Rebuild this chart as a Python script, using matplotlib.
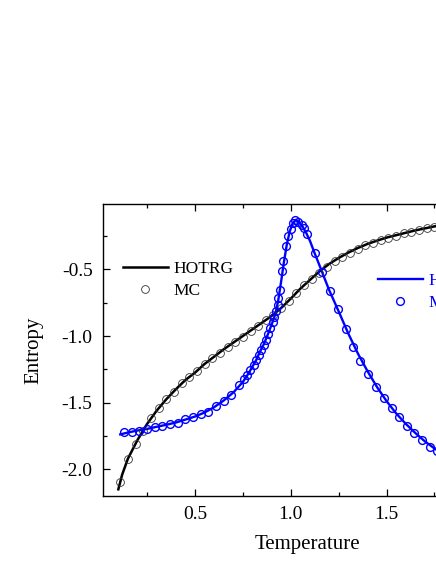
import numpy as np
import matplotlib
matplotlib.use('Agg')
import matplotlib.pyplot as plt
from matplotlib.lines import Line2D
from matplotlib.ticker import MultipleLocator

plt.rcParams['font.family'] = ['Liberation Serif', 'DejaVu Serif']
plt.rcParams['axes.unicode_minus'] = False

# HOTRG entropy curves
T_hotrg_black = [0.10, 0.12, 0.15, 0.20, 0.25, 0.30, 0.35, 0.40, 0.45, 0.50, 0.55, 0.60, 0.65,
                 0.70, 0.75, 0.80, 0.85, 0.90, 0.95, 1.00, 1.05, 1.10, 1.15, 1.20, 1.25, 1.30,
                 1.35, 1.40, 1.45, 1.50, 1.55, 1.60, 1.65, 1.70, 1.75, 1.80, 1.90, 2.00, 2.10]
S_hotrg_black = [-2.15, -2.04, -1.92, -1.78, -1.66, -1.56, -1.475, -1.40, -1.33, -1.275, -1.21,
                 -1.155, -1.10, -1.05, -1.00, -0.95, -0.90, -0.85, -0.79, -0.72, -0.645, -0.58,
                 -0.515, -0.46, -0.415, -0.375, -0.34, -0.31, -0.285, -0.262, -0.244, -0.226,
                 -0.208, -0.193, -0.178, -0.165, -0.142, -0.122, -0.105]

T_hotrg_blue = [0.11, 0.15, 0.20, 0.25, 0.30, 0.35, 0.40, 0.45, 0.50, 0.55, 0.60, 0.65, 0.70,
                0.75, 0.78, 0.80, 0.82, 0.84, 0.86, 0.88, 0.90, 0.92, 0.935, 0.95, 0.965, 0.98,
                0.995, 1.01, 1.025, 1.04, 1.06, 1.08, 1.10, 1.125, 1.15, 1.20, 1.25, 1.30, 1.35,
                1.40, 1.45, 1.50, 1.55, 1.60, 1.65, 1.70, 1.75, 1.80, 1.85, 1.90, 1.95, 2.00, 2.10]
S_hotrg_blue = [-1.738, -1.724, -1.709, -1.697, -1.681, -1.666, -1.649, -1.627, -1.604, -1.574,
                -1.534, -1.484, -1.424, -1.345, -1.28, -1.23, -1.18, -1.115, -1.06, -0.99, -0.915,
                -0.835, -0.73, -0.59, -0.44, -0.31, -0.215, -0.155, -0.13, -0.14, -0.175, -0.225,
                -0.285, -0.38, -0.47, -0.654, -0.815, -0.98, -1.13, -1.262, -1.382, -1.488, -1.58,
                -1.658, -1.727, -1.79, -1.843, -1.89, -1.93, -1.965, -1.995, -2.02, -2.07]

# MC data
T_mc_black = [0.11, 0.15, 0.19, 0.23, 0.27, 0.31, 0.35, 0.39, 0.43, 0.47, 0.51, 0.55, 0.59,
              0.63, 0.67, 0.71, 0.75, 0.79, 0.83, 0.87, 0.91, 0.95, 0.99, 1.03, 1.07, 1.11,
              1.15, 1.19, 1.23, 1.27, 1.31, 1.35, 1.39, 1.43, 1.47, 1.51, 1.55, 1.59, 1.63,
              1.67, 1.71, 1.75, 1.79, 1.83, 1.87, 1.91, 1.95, 1.99]
S_mc_black = [-2.094, -1.924, -1.809, -1.71, -1.616, -1.541, -1.471, -1.417, -1.354, -1.309,
              -1.261, -1.207, -1.166, -1.124, -1.084, -1.044, -1.004, -0.961, -0.924, -0.879,
              -0.841, -0.791, -0.736, -0.679, -0.621, -0.574, -0.524, -0.479, -0.436, -0.404,
              -0.374, -0.346, -0.321, -0.299, -0.279, -0.262, -0.247, -0.231, -0.217, -0.204,
              -0.191, -0.179, -0.168, -0.158, -0.149, -0.14, -0.132, -0.124]

T_mc_blue = [0.13, 0.17, 0.21, 0.25, 0.29, 0.33, 0.37, 0.41, 0.45, 0.49, 0.53, 0.57, 0.61,
             0.65, 0.69, 0.73, 0.755, 0.771, 0.789, 0.806, 0.820, 0.832, 0.844, 0.858, 0.870,
             0.880, 0.893, 0.905, 0.913, 0.924, 0.931, 0.936, 0.944, 0.956, 0.962, 0.974, 0.988,
             1.0, 1.013, 1.024, 1.039, 1.057, 1.071, 1.086, 1.126, 1.165, 1.204, 1.245, 1.287,
             1.326, 1.364, 1.404, 1.445, 1.485, 1.527, 1.567, 1.606, 1.644, 1.684, 1.725, 1.765,
             1.805, 1.845, 1.885, 1.925, 1.965]
S_mc_blue = [-1.721, -1.722, -1.709, -1.697, -1.684, -1.672, -1.659, -1.649, -1.626, -1.604,
             -1.584, -1.567, -1.526, -1.484, -1.441, -1.37, -1.32, -1.291, -1.254, -1.216,
             -1.179, -1.141, -1.104, -1.066, -1.029, -0.986, -0.941, -0.896, -0.854, -0.816,
             -0.766, -0.716, -0.654, -0.516, -0.44, -0.324, -0.25, -0.2, -0.153, -0.129, -0.145,
             -0.166, -0.191, -0.234, -0.378, -0.52, -0.659, -0.8, -0.949, -1.079, -1.184, -1.284,
             -1.379, -1.462, -1.541, -1.609, -1.674, -1.729, -1.779, -1.829, -1.86, -1.895,
             -1.925, -1.955, -1.98, -2.005]

fig = plt.figure(figsize=(4.36, 5.64), dpi=100)
# axes runs past the right edge of the picture, as in the reference
ax = fig.add_axes([103 / 436, 1 - 496 / 564, 409 / 436, 292 / 564])

ax.plot(T_hotrg_black, S_hotrg_black, color='black', lw=1.8, zorder=3)
ax.plot(T_mc_black, S_mc_black, 'o', ms=5.6, mfc='none', mec='#333333', mew=0.6, zorder=4)
ax.plot(T_hotrg_blue, S_hotrg_blue, color='#0000ff', lw=1.7, zorder=3)
ax.plot(T_mc_blue, S_mc_blue, 'o', ms=5.6, mfc='none', mec='#0000ff', mew=1.0, zorder=4)

ax.set_xlim(0.02, 2.155)
ax.set_ylim(-2.2, -0.01)
ax.set_xticks([0.5, 1.0, 1.5, 2.0])
ax.set_yticks([-2.0, -1.5, -1.0, -0.5])
ax.xaxis.set_minor_locator(MultipleLocator(0.25))
ax.yaxis.set_minor_locator(MultipleLocator(0.25))
ax.tick_params(which='both', direction='in', top=True, right=True, labelsize=14, width=0.9)
ax.tick_params(which='major', length=5, pad=7.5)
ax.tick_params(which='minor', length=3)
for s in ax.spines.values():
    s.set_linewidth(1.0)

ax.set_xlabel('Temperature', fontsize=15)
ax.set_ylabel('Entropy', fontsize=15)
ax.xaxis.set_label_coords(0.5, -0.132)
ax.yaxis.set_label_coords(-0.145, 0.5)

h1 = [Line2D([], [], color='black', lw=1.8),
      Line2D([], [], ls='none', marker='o', ms=5.6, mfc='none', mec='#333333', mew=0.6)]
leg1 = ax.legend(h1, ['HOTRG', 'MC'], loc='center left', bbox_to_anchor=(0.048, 0.74),
                 frameon=False, fontsize=12.5, handlelength=2.6, handletextpad=0.3,
                 borderpad=0, borderaxespad=0, labelspacing=0.35)
ax.add_artist(leg1)

h2 = [Line2D([], [], color='#0000ff', lw=1.7),
      Line2D([], [], ls='none', marker='o', ms=5.6, mfc='none', mec='#0000ff', mew=1.0)]
leg2 = ax.legend(h2, ['HOTRG', 'MC'], loc='center left', bbox_to_anchor=(0.672, 0.699),
                 frameon=False, fontsize=12.5, handlelength=2.6, handletextpad=0.3,
                 borderpad=0, borderaxespad=0, labelspacing=0.3, labelcolor='#0000ff')

fig.savefig('out.png', dpi=100)
